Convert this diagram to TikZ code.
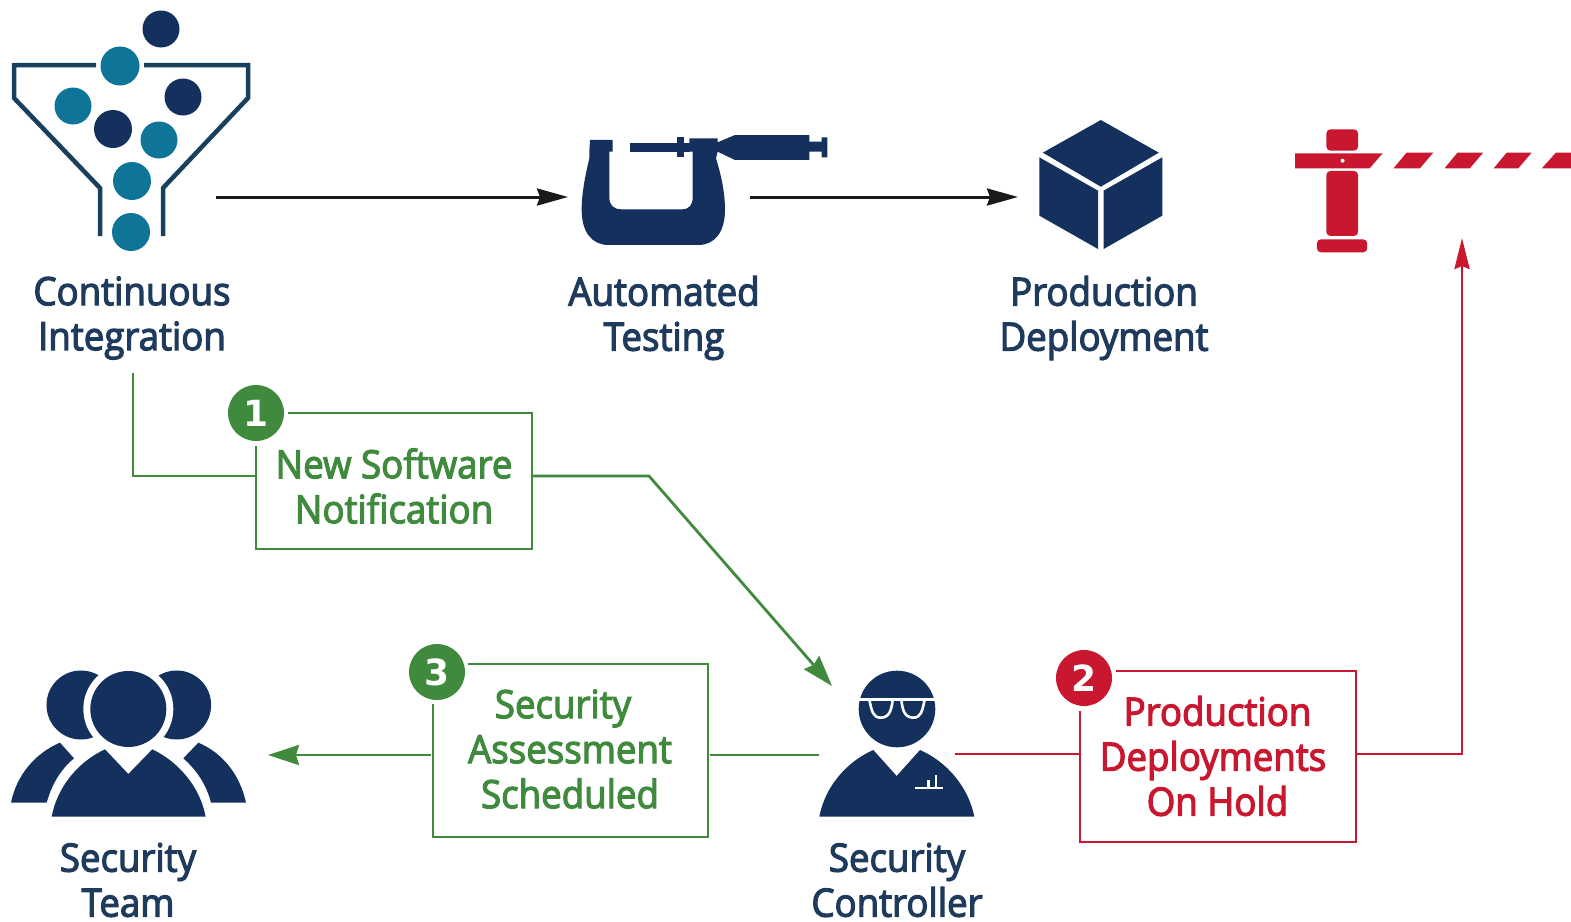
\documentclass[tikz,border=0pt]{standalone}
\usepackage{fontspec}
\setmainfont{Open Sans}[FakeBold=3,FakeStretch=0.94]
\newfontfamily\badgefont{DejaVu Sans}[BoldFont={DejaVu Sans Bold}]
\usetikzlibrary{arrows.meta,calc}
\definecolor{navy}{HTML}{14305C}
\definecolor{txtnavy}{HTML}{1E3A5C}
\definecolor{funnelc}{HTML}{17405F}
\definecolor{tealc}{HTML}{0E7599}
\definecolor{greenc}{HTML}{3F8A3C}
\definecolor{redc}{HTML}{C8172F}
\definecolor{blk}{HTML}{1A1A1A}
\tikzset{
  lbl/.style={align=center,inner sep=0pt,font=\fontsize{39}{45}\selectfont},
  navylbl/.style={lbl,text=txtnavy},
  greenlbl/.style={lbl,text=greenc},
  redlbl/.style={lbl,text=redc},
  boxnode/.style={inner sep=0pt,outer sep=0pt,draw=none},
  greenline/.style={draw=greenc,line width=2.8pt},
  redline/.style={draw=redc,line width=2.8pt},
  blackarrow/.style={draw=blk,line width=3pt,-{Stealth[length=31pt,width=17pt,inset=3pt]}},
  greenarrow/.style={greenline,-{Stealth[length=31pt,width=20pt,inset=3pt]}},
  redarrow/.style={redline,-{Stealth[length=31pt,width=15pt,inset=3pt]}},
  badge/.style={circle,inner sep=0pt,minimum size=56pt,text=white,font=\badgefont\bfseries\fontsize{36}{36}\selectfont},
  funnelline/.style={draw=funnelc,line width=4.5pt,miter limit=10},
}
\begin{document}
\begin{tikzpicture}[x=1pt,y=-1pt]
\useasboundingbox (0,0) rectangle (1571,921);
\fill[white] (0,0) rectangle (1571,921);

% funnel
\draw[funnelline] (96,65) -- (14,65) -- (14,98) -- (100,188) -- (100,236);
\draw[funnelline] (144,65) -- (248,65) -- (248,98) -- (163,188) -- (163,236);
\fill[navy] (161,29) circle (18.5);
\fill[tealc] (120,66) circle (19.5);
\fill[tealc] (73,106) circle (18.5);
\fill[navy] (183,97) circle (18.5);
\fill[navy] (113,129) circle (19);
\fill[tealc] (159,140) circle (18.5);
\fill[tealc] (132,181) circle (19);
\fill[tealc] (131,232) circle (19);

% caliper
\begin{scope}[shift={(560,110)},x=0.3333pt,y=-0.3333pt]
\fill[navy] (90,90) -- (158,90) -- (158,125) -- (148,125) -- (148,262)
  .. controls (148,285) and (160,298) .. (185,298) -- (365,298)
  .. controls (388,298) and (398,285) .. (398,262) -- (398,125) -- (388,125) -- (388,85) -- (473,85) -- (473,97)
  -- (525,75) -- (748,75) -- (748,95) -- (785,95) -- (785,82) -- (802,82) -- (802,142) -- (785,142) -- (785,125)
  -- (748,125) -- (748,150) -- (525,150) -- (473,125) -- (468,145)
  .. controls (485,200) and (495,250) .. (495,300)
  .. controls (495,365) and (465,405) .. (415,405) -- (145,405)
  .. controls (95,405) and (65,365) .. (65,300)
  .. controls (65,250) and (75,200) .. (88,145) -- (88,125) -- cycle;
\fill[navy] (210,98) rectangle (355,125);
\fill[navy] (352,82) rectangle (373,142);
\fill[navy] (373,98) rectangle (390,125);
\end{scope}

% cube and barrier
\begin{scope}[shift={(1020,100)},x=0.3514pt,y=-0.3333pt]
\fill[navy] (230,60) -- (395,158) -- (230,260) -- (65,158) -- cycle;
\fill[navy] (55,172) -- (222,272) -- (222,447) -- (55,347) -- cycle;
\fill[navy] (238,272) -- (405,172) -- (405,347) -- (238,447) -- cycle;
\fill[redc,rounded corners=4pt] (872,88) rectangle (962,152);
\fill[redc,rounded corners=4pt] (872,213) rectangle (962,408);
\fill[redc,rounded corners=4pt] (845,418) rectangle (988,457);
\fill[redc] (783,160) -- (1032,160) -- (995,205) -- (783,205) -- cycle;
\fill[white] (918,182) circle (2pt);
\fill[redc] (1100,158) -- (1176,158) -- (1138,205) -- (1063,205) -- cycle;
\fill[redc] (1245,158) -- (1318,158) -- (1280,205) -- (1208,205) -- cycle;
\fill[redc] (1385,158) -- (1456,158) -- (1418,205) -- (1348,205) -- cycle;
\fill[redc] (1525,158) -- (1568,158) -- (1568,205) -- (1485,205) -- cycle;
\end{scope}

% team
\begin{scope}[shift={(0,650)},x=0.3333pt,y=-0.3333pt]
\fill[navy] (243,165) circle (34.5pt);
\fill[navy] (530,165) circle (34.5pt);
\fill[white] (385,177) circle (45pt);
\fill[navy] (385,177) circle (38pt);
\fill[navy] (155,500) .. controls (172,410) and (235,335) .. (315,298) -- (385,372) -- (457,298)
  .. controls (535,335) and (600,410) .. (617,500) -- cycle;
\fill[navy] (33,458) .. controls (50,375) and (105,310) .. (180,278) -- (222,325)
  .. controls (180,360) and (155,405) .. (140,458) -- cycle;
\fill[navy] (738,458) .. controls (720,375) and (670,310) .. (595,278) -- (550,325)
  .. controls (590,360) and (620,405) .. (633,458) -- cycle;
\end{scope}

% controller
\begin{scope}[shift={(790,650)},x=0.3333pt,y=-0.3333pt]
\fill[navy] (321,177) circle (38.3pt);
\draw[white,line width=2.6pt] (205,148) -- (437,148);
\draw[white,line width=2.6pt] (238,148) .. controls (245,185) and (250,203) .. (272,203) .. controls (298,203) and (305,180) .. (308,148);
\draw[white,line width=2.6pt] (404,148) .. controls (397,185) and (392,203) .. (370,203) .. controls (344,203) and (337,180) .. (334,148);
\fill[navy] (88,500) .. controls (105,410) and (170,335) .. (250,300) -- (320,378) -- (390,300)
  .. controls (470,335) and (535,410) .. (553,500) -- cycle;
\draw[white,line width=2.6pt] (375,414) -- (460,414);
\draw[white,line width=2.4pt] (415,414) -- (415,390);
\draw[white,line width=2.4pt] (438,414) -- (438,375);
\end{scope}

% icon labels
\node[navylbl] (ciLabel) at (132,318) {Continuous\\Integration};
\node[navylbl] (atLabel) at (664,318) {Automated\\Testing};
\node[navylbl] (pdLabel) at (1104,318) {Production\\Deployment};
\node[navylbl] (stLabel) at (128,880) {Security\\Team};
\node[navylbl] (scLabel) at (897,880) {Security\\Controller};

% top arrows
\coordinate (ciOutR) at (216,197);
\coordinate (atIn) at (568,197);
\coordinate (atOut) at (750,197);
\coordinate (pdIn) at (1018,197);
\draw[blackarrow] (ciOutR) -- (atIn);
\draw[blackarrow] (atOut) -- (pdIn);

% box 1
\node[boxnode,minimum width=276pt,minimum height=136pt] (boxA) at (394,481) {};
\node[badge,fill=greenc] (badgeA) at (boxA.north west) {1};
\node[greenlbl] (boxAtext) at (394,486) {New Software\\Notification};
\draw[greenline] (288,413) -| (boxA.south east) -| (256,446);
\coordinate (ciOut) at (133,373);
\coordinate (boxAin) at (255,476);
\coordinate (boxAout) at (533,476);
\coordinate (bendA) at (649,476);
\coordinate (scInA) at (832,686);
\draw[greenline] (ciOut) |- (boxAin);
\draw[greenarrow] (boxAout) -- (bendA) -- (scInA);

% box 3
\node[boxnode,minimum width=275pt,minimum height=173pt] (boxC) at (570.5,750.5) {};
\node[badge,fill=greenc] (badgeC) at (437,672) {3};
\node[greenlbl] (boxCtext) at (570,749) {Security\hspace*{14pt}\\Assessment\\Scheduled};
\draw[greenline] (468,664) -| (boxC.south east) -| (433,704);
\coordinate (scOutL) at (819,755);
\coordinate (boxCout) at (710,755);
\coordinate (boxCin) at (431,755);
\coordinate (stIn) at (268,755);
\draw[greenline] (scOutL) -- (boxCout);
\draw[greenarrow] (boxCin) -- (stIn);

% box 2
\node[boxnode,minimum width=276pt,minimum height=171pt] (boxB) at (1218,756.5) {};
\node[badge,fill=redc] (badgeB) at (1084,678) {2};
\node[redlbl] (boxBtext) at (1213,756) {\hspace*{9pt}Production\\Deployments\\\hspace*{9pt}On Hold};
\draw[redline] (1116,671) -| (boxB.south east) -| (1080,711);
\coordinate (scOutR) at (955,754);
\coordinate (boxBin) at (1079,754);
\coordinate (boxBout) at (1357,754);
\coordinate (gateIn) at (1462,238);
\draw[redline] (scOutR) -- (boxBin);
\draw[redarrow] (boxBout) -| (gateIn);
\end{tikzpicture}
\end{document}
